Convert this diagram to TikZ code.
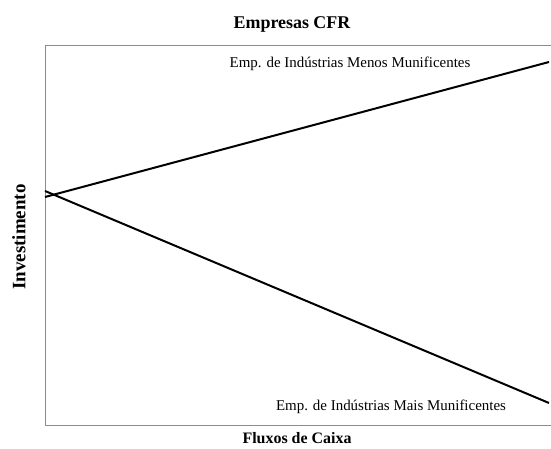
\documentclass[tikz,border=0pt]{standalone}
\usepackage{fontspec}
\setmainfont{Liberation Serif}
\begin{document}
\begin{tikzpicture}[x=1bp,y=-1bp,
  frame/.style={draw=black!45,line width=0.9bp},
  trend/.style={draw=black,line width=2bp},
  heading/.style={font=\fontsize{18}{20}\selectfont\bfseries},
  axislabel/.style={font=\fontsize{16}{18}\selectfont\bfseries},
  serieslabel/.style={font=\fontsize{15}{17}\selectfont}]
  \useasboundingbox (0,0) rectangle (551,449);
  % plot area border (left, top, bottom)
  \draw[frame] (551,45) -- (45,45) -- (45,425) -- (551,425);
  % titles
  \node[heading] (title) at (292,24) {Empresas CFR};
  \node[axislabel] (xlab) at (297,438) {Fluxos de Caixa};
  \node[font=\fontsize{19}{21}\selectfont\bfseries,rotate=90] (ylab) at (19,237) {Investimento};
  % series end points
  \coordinate (lowA) at (45,197);
  \coordinate (lowB) at (549,62);
  \coordinate (highA) at (45,191);
  \coordinate (highB) at (549,403);
  \draw[trend] (lowA) -- (lowB);
  \draw[trend] (highA) -- (highB);
  % series labels
  \node[serieslabel] (lessM) at (350,64) {Emp. de Indústrias Menos Munificentes};
  \node[serieslabel] (moreM) at (391,407) {Emp. de Indústrias Mais Munificentes};
\end{tikzpicture}
\end{document}
